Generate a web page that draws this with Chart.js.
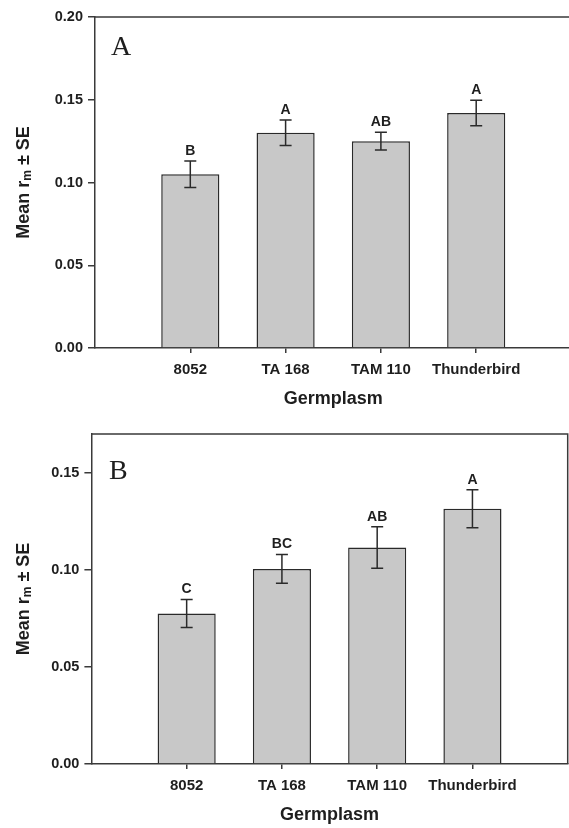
<!DOCTYPE html>
<html>
<head>
<meta charset="utf-8">
<script src="https://cdn.jsdelivr.net/npm/chart.js@4.4.1/dist/chart.umd.min.js"></script>
<style>
html, body { margin: 0; padding: 0; background: #fff; overflow: hidden; width: 569px; height: 828px; }
canvas { display: block; }
</style>
</head>
<body>
<canvas id="panelA" width="575" height="412"></canvas>
<canvas id="panelB" width="569" height="416"></canvas>
<script>
var germplasm = ['8052', 'TA 168', 'TAM 110', 'Thunderbird'];

// panel A
var meanA = [0.105, 0.130, 0.125, 0.142];
var seA = [0.008, 0.0077, 0.0053, 0.0077];
var lettersA = ['B', 'A', 'AB', 'A'];
var yTicksA = [0, 0.05, 0.10, 0.15, 0.20];

// panel B
var meanB = [0.0775, 0.1005, 0.1115, 0.1315];
var seB = [0.0072, 0.0074, 0.0107, 0.0098];
var lettersB = ['C', 'BC', 'AB', 'A'];
var yTicksB = [0, 0.05, 0.10, 0.15];

var SANS = 'Liberation Sans, Arial, sans-serif';
var INK = '#1e1e1e';
var LINE = '#3a3a3a';

var extras = {
    id: 'extras',
    afterDatasetsDraw: function(chart, args, opts) {
        var ctx = chart.ctx;
        var xs = chart.scales.x, ys = chart.scales.y, area = chart.chartArea;
        ctx.save();

        // frame (top + right)
        ctx.strokeStyle = LINE;
        ctx.lineWidth = 1.5;
        ctx.beginPath();
        ctx.moveTo(area.left, area.top);
        ctx.lineTo(area.right, area.top);
        ctx.lineTo(area.right, area.bottom);
        ctx.stroke();

        // error bars + letters
        ctx.strokeStyle = '#2a2a2a';
        ctx.fillStyle = INK;
        ctx.font = 'bold 14px ' + SANS;
        ctx.textAlign = 'center';
        ctx.textBaseline = 'middle';
        opts.means.forEach(function(m, i) {
            var px = xs.getPixelForValue(i + 1);
            var top = ys.getPixelForValue(m + opts.se[i]);
            var bot = ys.getPixelForValue(m - opts.se[i]);
            ctx.beginPath();
            ctx.moveTo(px, top); ctx.lineTo(px, bot);
            ctx.moveTo(px - 6, top); ctx.lineTo(px + 6, top);
            ctx.moveTo(px - 6, bot); ctx.lineTo(px + 6, bot);
            ctx.stroke();
            ctx.fillText(opts.letters[i], px, top - 10);
        });

        // panel letter
        ctx.font = '28px Liberation Serif, Times New Roman, serif';
        ctx.textAlign = 'left';
        ctx.textBaseline = 'alphabetic';
        ctx.fillText(opts.panel, opts.panelX, opts.panelY);

        // y title with subscript
        var big = 'bold 18px ' + SANS, small = 'bold 12px ' + SANS;
        var parts = [['Mean r', big, 0], ['m', small, 4], [' \u00b1 SE', big, 0]];
        var w = 0;
        parts.forEach(function(p) { ctx.font = p[1]; w += ctx.measureText(p[0]).width; });
        ctx.translate(24, (area.top + area.bottom) / 2);
        ctx.rotate(-Math.PI / 2);
        ctx.textBaseline = 'middle';
        var cx = -w / 2;
        parts.forEach(function(p) {
            ctx.font = p[1];
            ctx.fillText(p[0], cx, p[2]);
            cx += ctx.measureText(p[0]).width;
        });
        ctx.restore();
    }
};

function makeChart(id, means, se, letters, yTicks, yMax, yWidth, pad, panel, panelX, panelY) {
    var ctx = document.getElementById(id).getContext('2d');
    return new Chart(ctx, {
        type: 'bar',
        data: {
            datasets: [{
                data: means.map(function(m, i) { return { x: i + 1, y: m }; }),
                backgroundColor: '#c8c8c8',
                borderColor: '#2a2a2a',
                borderWidth: 1.5,
                barPercentage: 0.61,
                categoryPercentage: 1
            }]
        },
        options: {
            responsive: false,
            animation: false,
            layout: { padding: pad },
            plugins: {
                legend: { display: false },
                tooltip: { enabled: false },
                extras: { means: means, se: se, letters: letters, panel: panel, panelX: panelX, panelY: panelY }
            },
            scales: {
                x: {
                    type: 'linear',
                    min: 0,
                    max: 5,
                    offset: false,
                    afterBuildTicks: function(s) {
                        s.ticks = germplasm.map(function(g, i) { return { value: i + 1 }; });
                    },
                    afterFit: function(s) { s.height = 64; },
                    grid: { offset: false, drawOnChartArea: false, tickLength: 5, color: LINE, lineWidth: 1.5 },
                    border: { color: LINE, width: 1.5 },
                    ticks: {
                        callback: function(v, i) { return germplasm[i]; },
                        font: { family: SANS, weight: 'bold', size: 15 },
                        color: INK,
                        padding: 8,
                        maxRotation: 0,
                        autoSkip: false
                    },
                    title: {
                        display: true,
                        text: 'Germplasm',
                        font: { family: SANS, weight: 'bold', size: 18 },
                        color: INK,
                        padding: { top: 0, bottom: 2 }
                    }
                },
                y: {
                    min: 0,
                    max: yMax,
                    afterBuildTicks: function(s) {
                        s.ticks = yTicks.map(function(v) { return { value: v }; });
                    },
                    afterFit: function(s) { s.width = yWidth; },
                    grid: { drawOnChartArea: false, tickLength: 7, color: LINE, lineWidth: 1.5 },
                    border: { color: LINE, width: 1.5 },
                    ticks: {
                        callback: function(v) { return v.toFixed(2); },
                        font: { family: SANS, weight: 'bold', size: 14.5 },
                        color: INK,
                        padding: 5
                    }
                }
            }
        },
        plugins: [extras]
    });
}

makeChart('panelA', meanA, seA, lettersA, yTicksA, 0.20, 95, { top: 17, right: 3.5, left: 0, bottom: 0 }, 'A', 111, 55);
makeChart('panelB', meanB, seB, lettersB, yTicksB, 0.17, 91.4, { top: 22, right: 1.3, left: 0, bottom: 0 }, 'B', 109, 67);
</script>
</body>
</html>
